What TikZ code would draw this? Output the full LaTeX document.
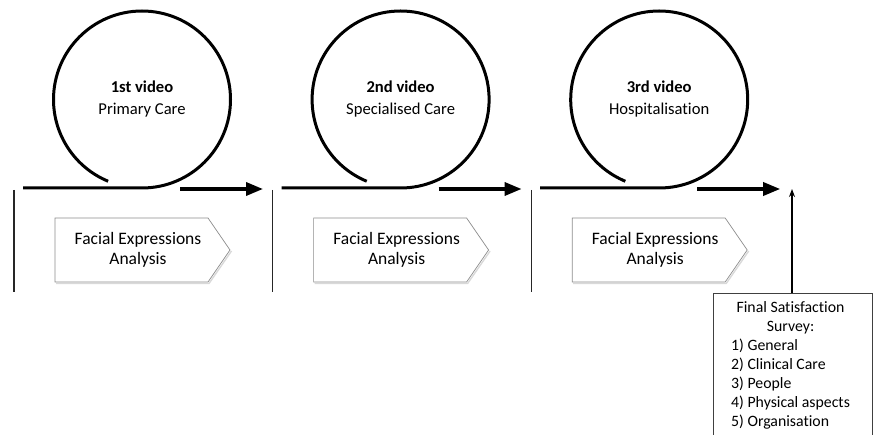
\documentclass[tikz,border=0pt]{standalone}
\usepackage{fontspec}
\setmainfont[Ligatures={NoCommon}]{Carlito}
\usetikzlibrary{arrows.meta}
\tikzset{
  loopline/.style={line width=3pt},
  sepline/.style={line width=1.1pt, black!85},
  flowarrow/.style={line width=3.4pt, -{Triangle[length=17pt,width=13pt]}},
  pentbox/.style={draw=black!45, line width=0.7pt, fill=white},
  pentshadow/.style={draw=black!15, line width=1.4pt},
  lbl/.style={font=\fontsize{17.5}{20}\selectfont, align=center, inner sep=0pt},
  surveybox/.style={draw=black!75, line width=0.8pt, fill=white},
  thinarrow/.style={line width=1.1pt, -{Stealth[length=8pt,width=6pt]}}
}
\begin{document}
\begin{tikzpicture}[x=1pt,y=1pt]
\useasboundingbox (0,0) rectangle (873,-435);
\foreach \i/\first/\second in {0/1st video/Primary Care,1/2nd video/Specialised Care,2/3rd video/Hospitalisation}{
  \pgfmathsetmacro{\ox}{14+258.6*\i}
  % separator line
  \coordinate (sepT\i) at (\ox,-190);
  \coordinate (sepB\i) at (\ox,-292);
  \draw[sepline] (sepT\i) -- (sepB\i);
  % main line with loop
  \coordinate (ls\i) at (\ox+9,-188);
  \coordinate (lb\i) at (\ox+128,-188);
  \draw[loopline] (ls\i) -- (lb\i) arc[start angle=270, end angle=607.5, radius=88.5];
  % video label
  \node[lbl, font=\fontsize{16.6}{22}\selectfont] (video\i) at (\ox+128,-99) {\textbf{\first}\\\second};
  % arrow
  \coordinate (as\i) at (\ox+166,-189);
  \coordinate (ae\i) at (\ox+249,-189);
  \draw[flowarrow] (as\i) -- (ae\i);
  % pentagon
  \draw[pentshadow] (\ox+42,-283.5) -- (\ox+195,-283.5) -- (\ox+217.5,-251);
  \draw[pentbox] (\ox+41,-218) -- (\ox+194,-218) -- (\ox+216,-250) -- (\ox+194,-282) -- (\ox+41,-282) -- cycle;
  \node[lbl] (fea\i) at (\ox+124,-250) {Facial Expressions\\Analysis};
}
% final survey box
\draw[surveybox] (713,-445) -- (713,-293) -- (872,-293) -- (872,-445);
\node[inner sep=0pt, anchor=north west, font=\fontsize{15.8}{19}\selectfont] (survey) at (731,-299.5)
  {\begin{tabular}{@{}l@{}}
   \multicolumn{1}{@{}c@{}}{Final Satisfaction}\\
   \multicolumn{1}{@{}c@{}}{Survey:}\\
   1) General\\
   2) Clinical Care\\
   3) People\\
   4) Physical aspects\\
   5) Organisation
   \end{tabular}};
\coordinate (upS) at (792,-293);
\coordinate (upE) at (792,-189);
\draw[thinarrow] (upS) -- (upE);
\end{tikzpicture}
\end{document}
